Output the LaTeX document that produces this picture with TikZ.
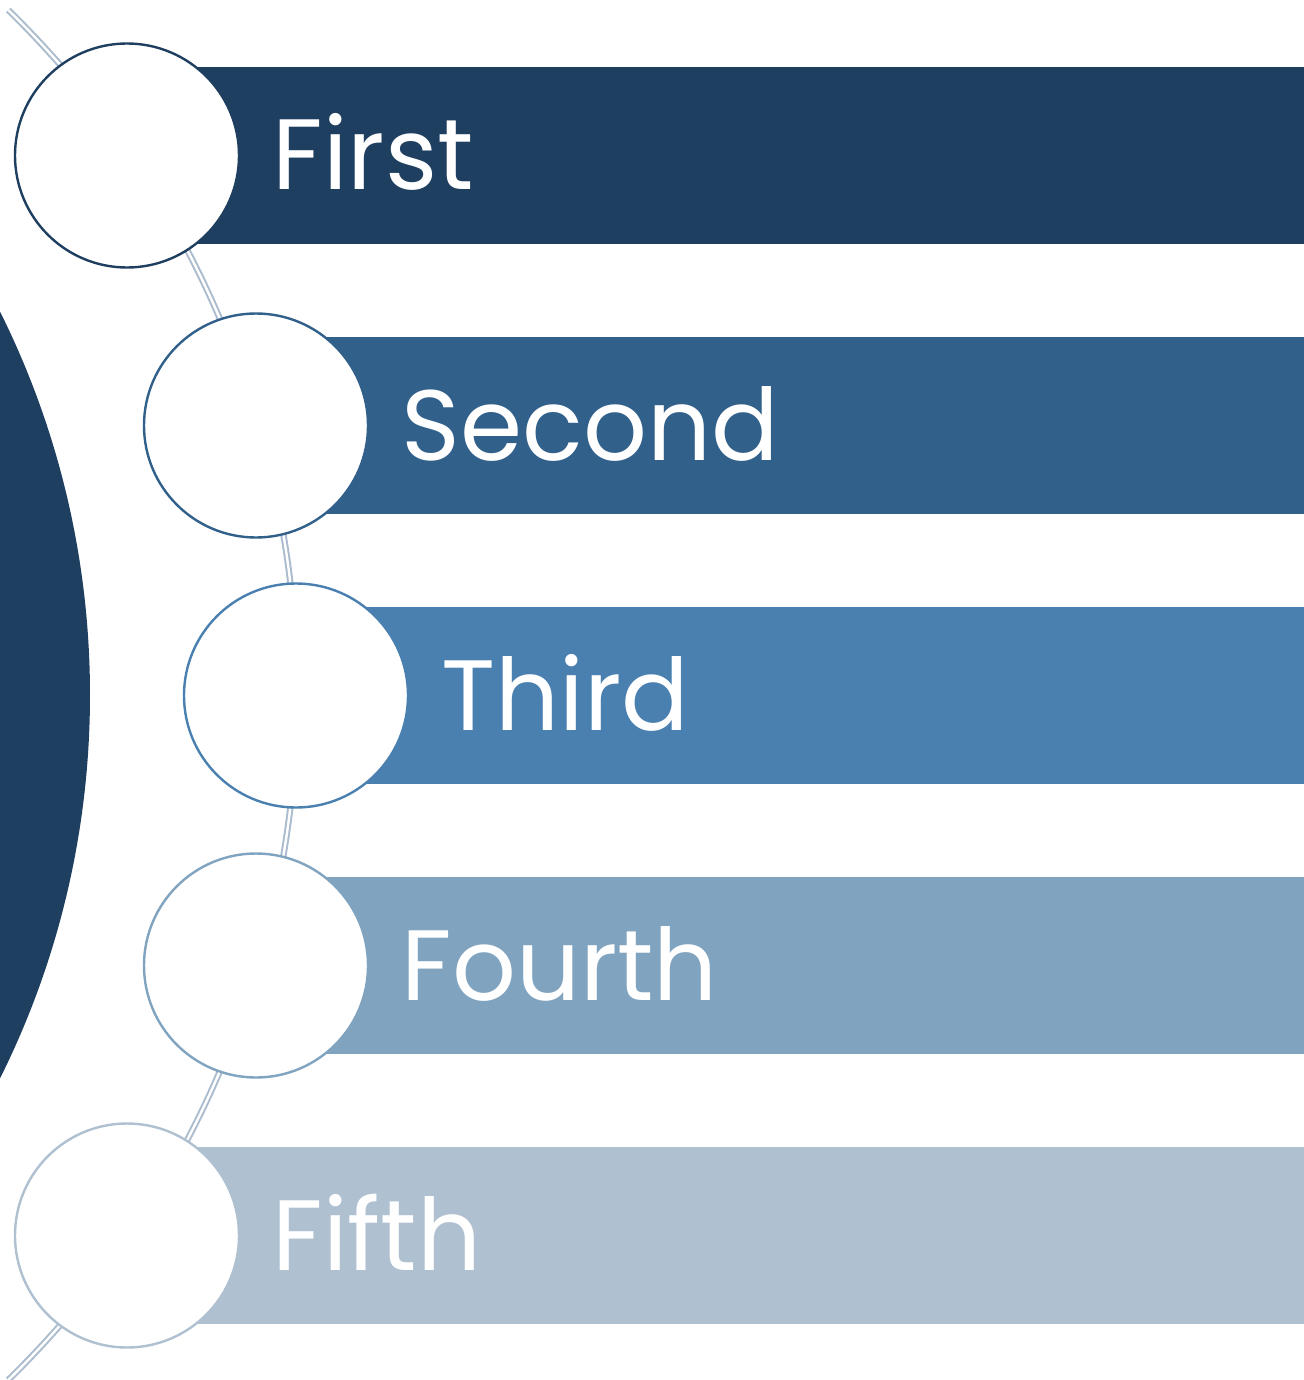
\documentclass[tikz,border=0pt]{standalone}
\usepackage{fontspec}
\setmainfont{Poppins}
\definecolor{cFirst}{HTML}{1F3F60}
\definecolor{cSecond}{HTML}{31608A}
\definecolor{cThird}{HTML}{4A80B0}
\definecolor{cFourth}{HTML}{80A3C0}
\definecolor{cFifth}{HTML}{AFC0D1}
\definecolor{cRail}{HTML}{AABCCE}
\tikzset{
  bullet/.style={circle, draw=#1, line width=2.4bp, fill=white, minimum size=224bp, inner sep=0pt},
  label/.style={anchor=base west, inner sep=0pt, text=white, font=\fontsize{100bp}{120bp}\selectfont},
  rail/.style={draw=cRail, double=white, line width=2bp, double distance=2.4bp},
}
\begin{document}
\begin{tikzpicture}[x=1bp, y=-1bp]
  \useasboundingbox (0,0) rectangle (1304,1380);
  \begin{scope}
    \clip (0,0) rectangle (1304,1380);
    % large backdrop disc on the left
    \fill[cFirst] (-770,695) circle[radius=860];
    % curved rail joining the bullets
    \draw[rail] (-660,695) ++(-45.7:957) arc[start angle=-45.7, end angle=45.7, radius=957];
  \end{scope}
  % bars, bullets and labels
  \foreach \n/\cx/\cy/\col/\txt in {
      a/127/155.5/cFirst/First,
      b/256/425.5/cSecond/Second,
      c/296/695.5/cThird/Third,
      d/256/965.5/cFourth/Fourth,
      e/127/1235.5/cFifth/Fifth} {
    \fill[\col] (\cx,\cy-88.5) rectangle (1304,\cy+88.5);
    \node[bullet=\col] (dot-\n) at (\cx,\cy) {};
    \node[label] (txt-\n) at (\cx+145.5,\cy+34.5) {\txt};
  }
\end{tikzpicture}
\end{document}
